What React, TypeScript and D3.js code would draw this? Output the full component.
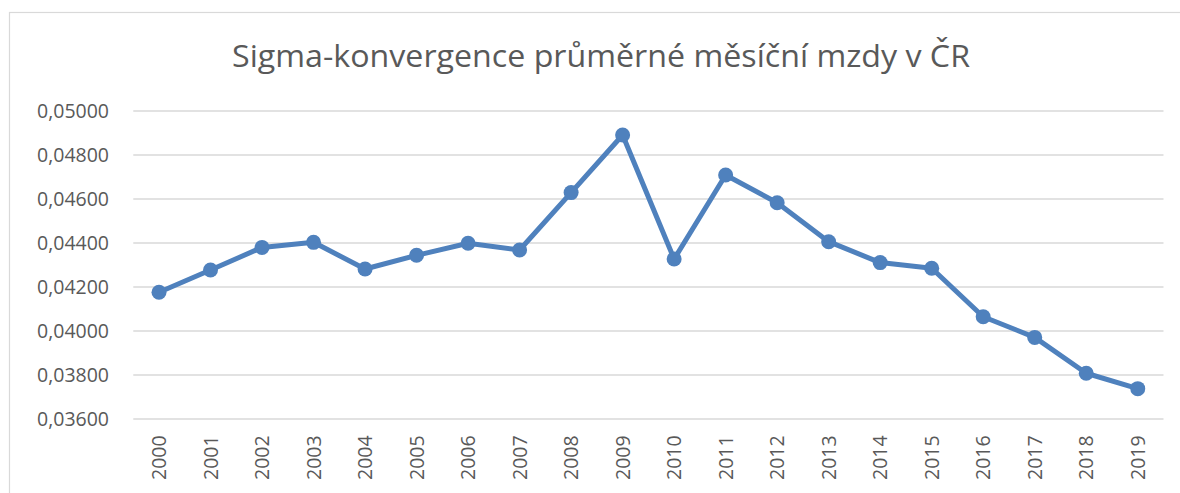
import React from "react";
import * as d3 from "d3";

const years = ["2000","2001","2002","2003","2004","2005","2006","2007","2008","2009","2010","2011","2012","2013","2014","2015","2016","2017","2018","2019"];
const values = [0.04176,0.04277,0.04380,0.04403,0.04282,0.04344,0.04399,0.04368,0.04629,0.04891,0.04327,0.04709,0.04583,0.04406,0.04311,0.04285,0.04065,0.03971,0.03808,0.03738];
const yTicks = [0.036,0.038,0.040,0.042,0.044,0.046,0.048,0.050];
const title = "Sigma-konvergence průměrné měsíční mzdy v ČR";

export default function App() {
  const W = 1180, H = 493;
  const left = 133.25, right = 1163.5, top = 111, bottom = 419;
  const x = d3.scaleBand().domain(years).range([left, right]);
  const y = d3.scaleLinear().domain([0.036, 0.05]).range([bottom, top]);
  const line = d3.line<number>()
    .x((_, i) => (x(years[i]) as number) + x.bandwidth() / 2)
    .y((d) => y(d));
  const font = "'Open Sans', sans-serif";
  const fmt = (v: number) => v.toFixed(5).replace(".", ",");
  return (
    <svg width={W} height={H} style={{ position: "absolute", left: 0, top: 0, display: "block" }}>
      <rect x={0} y={0} width={W} height={H} fill="#fff" />
      <rect x={9.5} y={12.5} width={1200} height={600} fill="#fff" stroke="#d9d9d9" strokeWidth={1.2} />
      <text x={601} y={67} textAnchor="middle" fontFamily={font} fontWeight={400} fontSize={31} fill="#595959" textLength={738} lengthAdjust="spacingAndGlyphs">{title}</text>
      {yTicks.map((t) => (
        <g key={t}>
          <line x1={left} x2={right} y1={y(t)} y2={y(t)} stroke="#d9d9d9" strokeWidth={1.5} />
          <text x={109} y={y(t)} dy="0.35em" textAnchor="end" fontFamily={font} fontSize={19.5} fill="#595959">{fmt(t)}</text>
        </g>
      ))}
      {years.map((yr) => {
        const cx = (x(yr) as number) + x.bandwidth() / 2;
        return (
          <text key={yr} transform={`translate(${cx + 7},${480}) rotate(-90)`} textAnchor="start" fontFamily={font} fontSize={19.5} fill="#595959">{yr}</text>
        );
      })}
      <path d={line(values) || ""} fill="none" stroke="#4f81bd" strokeWidth={5} strokeLinejoin="round" strokeLinecap="round" />
      {values.map((v, i) => (
        <circle key={i} cx={(x(years[i]) as number) + x.bandwidth() / 2} cy={y(v)} r={7.5} fill="#4f81bd" />
      ))}
    </svg>
  );
}
